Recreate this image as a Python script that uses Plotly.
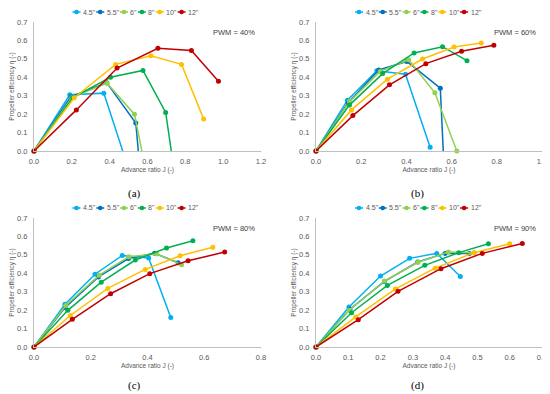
import plotly.graph_objects as go

# page body has an 8px margin; figure occupies window pixels 8..550 x 8..394
OFF = 8
W, H = 550 - OFF, 394 - OFF

sizes = ['4.5"', '5.5"', '6"', '8"', '10"', '12"']
colors = ['#00B0F0', '#0070C0', '#92D050', '#00B050', '#FFC000', '#C00000']

# PWM = 40 %
pwm40_J = [
    [0, 0.189, 0.369, 0.485],
    [0, 0.195, 0.385, 0.538, 0.556],
    [0, 0.200, 0.386, 0.531, 0.580],
    [0, 0.205, 0.405, 0.576, 0.696, 0.733],
    [0, 0.213, 0.432, 0.618, 0.780, 0.897],
    [0, 0.224, 0.439, 0.655, 0.832, 0.975],
]
pwm40_eta = [
    [0, 0.305, 0.314, -0.05],
    [0, 0.295, 0.370, 0.152, -0.05],
    [0, 0.290, 0.368, 0.200, -0.05],
    [0, 0.290, 0.400, 0.437, 0.209, -0.05],
    [0, 0.289, 0.470, 0.517, 0.470, 0.173],
    [0, 0.223, 0.450, 0.557, 0.546, 0.379],
]
# PWM = 60 %
pwm60_J = [
    [0, 0.139, 0.269, 0.396, 0.505],
    [0, 0.142, 0.278, 0.402, 0.550, 0.565],
    [0, 0.148, 0.284, 0.410, 0.526, 0.623],
    [0, 0.148, 0.295, 0.434, 0.560, 0.668],
    [0, 0.157, 0.316, 0.471, 0.611, 0.731],
    [0, 0.163, 0.325, 0.486, 0.644, 0.787],
]
pwm60_eta = [
    [0, 0.276, 0.435, 0.417, 0.020],
    [0, 0.262, 0.440, 0.486, 0.341, -0.05],
    [0, 0.268, 0.432, 0.495, 0.316, 0.0],
    [0, 0.249, 0.420, 0.532, 0.566, 0.490],
    [0, 0.223, 0.390, 0.499, 0.564, 0.586],
    [0, 0.192, 0.359, 0.474, 0.541, 0.574],
]
# PWM = 80 %
pwm80_J = [
    [0, 0.109, 0.215, 0.311, 0.404, 0.482],
    [0, 0.110, 0.227, 0.333, 0.425, 0.508],
    [0, 0.112, 0.230, 0.334, 0.433, 0.520],
    [0, 0.119, 0.237, 0.357, 0.467, 0.560],
    [0, 0.128, 0.260, 0.392, 0.515, 0.630],
    [0, 0.135, 0.270, 0.408, 0.543, 0.672],
]
pwm80_eta = [
    [0, 0.232, 0.395, 0.497, 0.483, 0.160],
    [0, 0.215, 0.380, 0.480, 0.509, 0.457],
    [0, 0.225, 0.390, 0.490, 0.505, 0.446],
    [0, 0.199, 0.352, 0.472, 0.537, 0.577],
    [0, 0.171, 0.318, 0.421, 0.495, 0.541],
    [0, 0.150, 0.289, 0.398, 0.468, 0.515],
]
# PWM = 90 %
pwm90_J = [
    [0, 0.102, 0.200, 0.290, 0.374, 0.447],
    [0, 0.105, 0.212, 0.315, 0.400, 0.475],
    [0, 0.103, 0.212, 0.316, 0.410, 0.490],
    [0, 0.110, 0.221, 0.337, 0.442, 0.534],
    [0, 0.123, 0.246, 0.369, 0.489, 0.600],
    [0, 0.131, 0.254, 0.387, 0.515, 0.639],
]
pwm90_eta = [
    [0, 0.217, 0.385, 0.481, 0.508, 0.383],
    [0, 0.205, 0.356, 0.461, 0.508, 0.508],
    [0, 0.200, 0.358, 0.460, 0.515, 0.512],
    [0, 0.186, 0.334, 0.443, 0.512, 0.560],
    [0, 0.163, 0.315, 0.428, 0.512, 0.560],
    [0, 0.148, 0.302, 0.425, 0.508, 0.562],
]

panel_labels = ['PWM = 40%', 'PWM = 60%', 'PWM = 80%', 'PWM = 90%']
captions = ['(a)', '(b)', '(c)', '(d)']
x_max = [1.2, 1.0, 0.8, 0.7]
x_dtick = [0.2, 0.2, 0.2, 0.1]

panels = [(pwm40_J, pwm40_eta), (pwm60_J, pwm60_eta), (pwm80_J, pwm80_eta), (pwm90_J, pwm90_eta)]

# window-pixel boxes (left, right, top, bottom)
boxes = [(34, 261, 22, 151), (316, 542, 22, 151), (34, 261, 218, 347), (316, 542, 218, 347)]
legend_y = [12, 12, 208, 208]
legend_x0 = [72.5, 355, 72.5, 355]
caption_pos = [(134, 194), (417, 194), (134, 385), (417, 385)]

TXT = '#595959'
AX = '#BFBFBF'
FONT = 'Liberation Sans'

fig = go.Figure()
layout = dict(width=W, height=H, margin=dict(l=0, r=0, t=0, b=0, autoexpand=False),
              paper_bgcolor='white', plot_bgcolor='white', showlegend=False)
annotations = []
shapes = []


def px(x):
    return (x - OFF) / W


def py(y):
    return 1 - (y - OFF) / H


char_w = {'.': 1.95, '"': 2.5}

for i, (Js, etas) in enumerate(panels):
    n = '' if i == 0 else str(i + 1)
    l, r, t, b = boxes[i]
    layout['xaxis' + n] = dict(
        domain=[px(l), px(r)], anchor='y' + n, range=[0, x_max[i]], dtick=x_dtick[i],
        tickformat='.1f', showgrid=False, zeroline=False, showline=True, linecolor=AX,
        linewidth=1, ticks='', ticklabelstandoff=3, automargin=False, ticklabeloverflow='allow',
        tickfont=dict(size=7.5, color=TXT, family=FONT),
        title=dict(text='Advance ratio J (-)', font=dict(size=6.5, color=TXT, family=FONT), standoff=2),
    )
    layout['yaxis' + n] = dict(
        domain=[py(b), py(t)], anchor='x' + n, range=[0, 0.7], dtick=0.1,
        tickformat='.1f', showgrid=False, zeroline=False, showline=True, linecolor=AX,
        linewidth=1, ticks='', ticklabelstandoff=4, automargin=False, ticklabeloverflow='allow',
        tickfont=dict(size=7.5, color=TXT, family=FONT),
        title=dict(text='Propeller efficiency η (-)', font=dict(size=6.5, color=TXT, family=FONT), standoff=1),
    )
    for k in range(len(sizes)):
        fig.add_trace(go.Scatter(
            x=Js[k], y=etas[k], mode='lines+markers', name=sizes[k],
            line=dict(color=colors[k], width=1.5),
            marker=dict(color=colors[k], size=5, symbol='circle'),
            cliponaxis=False, xaxis='x' + n, yaxis='y' + n,
        ))
    # PWM label
    annotations.append(dict(text=panel_labels[i], x=px(r - 4), y=py(t + 10), xref='paper', yref='paper',
                            xanchor='right', yanchor='middle', showarrow=False,
                            font=dict(size=7.5, color='#404040', family=FONT)))
    # caption
    cx, cy = caption_pos[i]
    annotations.append(dict(text=captions[i], x=px(cx), y=py(cy), xref='paper', yref='paper',
                            xanchor='center', yanchor='middle', showarrow=False,
                            font=dict(size=11, color='black', family='Liberation Serif')))
    # custom legend row
    x0 = legend_x0[i]
    ly = legend_y[i]
    for k, s in enumerate(sizes):
        shapes.append(dict(type='line', xref='paper', yref='paper', x0=px(x0), x1=px(x0 + 8),
                           y0=py(ly), y1=py(ly), line=dict(color=colors[k], width=1.5)))
        shapes.append(dict(type='circle', xref='paper', yref='paper', xsizemode='pixel', ysizemode='pixel',
                           xanchor=px(x0 + 4), yanchor=py(ly), x0=-2.3, x1=2.3, y0=-2.3, y1=2.3,
                           fillcolor=colors[k], line=dict(width=0)))
        annotations.append(dict(text=s, x=px(x0 + 8.5), y=py(ly), xref='paper', yref='paper',
                                xanchor='left', yanchor='middle', showarrow=False,
                                font=dict(size=7, color=TXT, family=FONT)))
        tw = sum(char_w.get(c, 3.9) for c in s)
        x0 += 8.5 + tw + 3

layout['annotations'] = annotations
layout['shapes'] = shapes
fig.update_layout(**layout)
fig.write_html('out.html')
